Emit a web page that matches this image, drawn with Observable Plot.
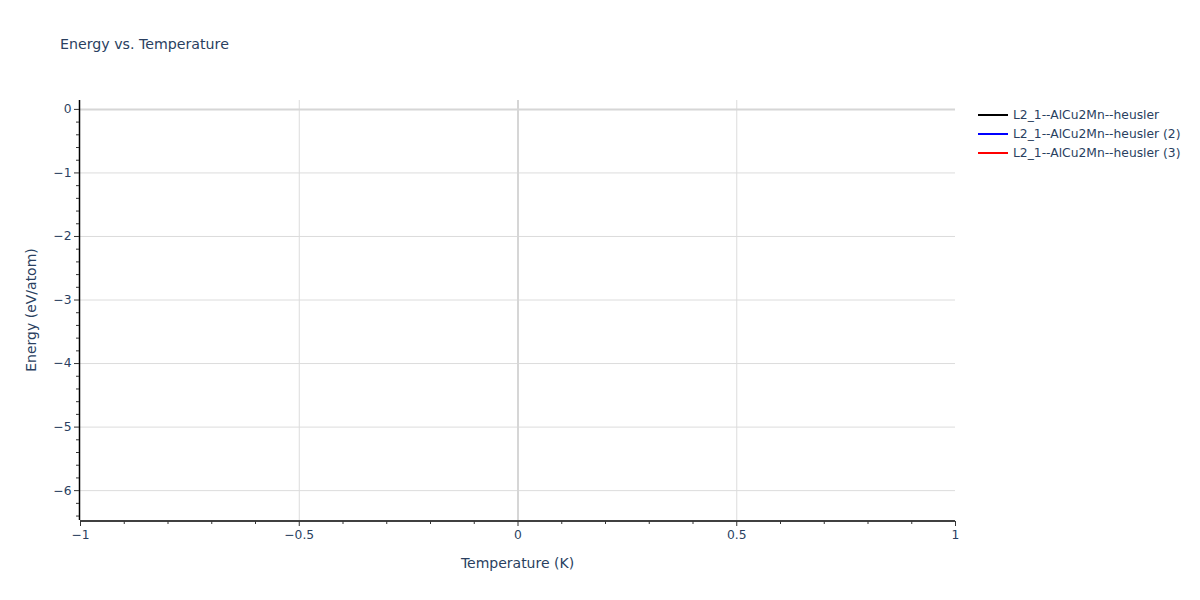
<!DOCTYPE html>
<html>
<head>
<meta charset="utf-8">
<script src="https://cdn.jsdelivr.net/npm/d3@7"></script>
<script src="https://cdn.jsdelivr.net/npm/@observablehq/plot@0.6"></script>
<style>
  html, body { margin: 0; padding: 0; background: #fff; }
  #wrap { position: relative; width: 1200px; height: 600px; font-family: "DejaVu Sans", Verdana, sans-serif; color: #2a3f5f; }
  #title { position: absolute; left: 60px; top: 36px; font-size: 14.2px; white-space: nowrap; }
  #legend { position: absolute; left: 978px; top: 105px; font-size: 12.3px; }
  .item { display: flex; align-items: center; height: 19px; white-space: nowrap; }
  .swatch { width: 30px; height: 2px; margin-right: 5px; }
  #chart { position: absolute; left: 0; top: 0; }
</style>
</head>
<body>
<div id="wrap">
  <div id="chart"></div>
  <div id="title">Energy vs. Temperature</div>
  <div id="legend"></div>
</div>
<script>
// ---- data ----
const seriesNames = ["L2_1--AlCu2Mn--heusler", "L2_1--AlCu2Mn--heusler (2)", "L2_1--AlCu2Mn--heusler (3)"];
const seriesColors = ["#000000", "#0000ff", "#ff0000"];
// The three traces contain no plotted points in the reference
const series1 = [];
const series2 = [];
const series3 = [];
const xDomain = [-1, 1];
const yDomain = [-6.47, 0.14];
const xTicks = [-1, -0.5, 0, 0.5, 1];
const xMinorTicks = [-0.9, -0.8, -0.7, -0.6, -0.4, -0.3, -0.2, -0.1, 0.1, 0.2, 0.3, 0.4, 0.6, 0.7, 0.8, 0.9];
const yTicks = [0, -1, -2, -3, -4, -5, -6];
const yMinorTicks = [-0.2, -0.4, -0.6, -0.8, -1.2, -1.4, -1.6, -1.8, -2.2, -2.4, -2.6, -2.8, -3.2, -3.4, -3.6, -3.8, -4.2, -4.4, -4.6, -4.8, -5.2, -5.4, -5.6, -5.8, -6.2, -6.4];
const xLabel = "Temperature (K)";
const yLabel = "Energy (eV/atom)";

const fmt = d => d3.format("")(d).replace("-", "\u2212");
const font = "DejaVu Sans, Verdana, sans-serif";
const textColor = "#2a3f5f";

const plot = Plot.plot({
  width: 1200,
  height: 600,
  marginLeft: 80,
  marginRight: 245,
  marginTop: 100,
  marginBottom: 80,
  style: { fontFamily: font, fontSize: "12px", color: textColor, background: "#fff" },
  x: { domain: xDomain, axis: null },
  y: { domain: yDomain, axis: null },
  marks: [
    Plot.gridX(xTicks.filter(v => v !== 0 && Math.abs(v) !== 1), { stroke: "#dcdcdc", strokeOpacity: 1, strokeWidth: 1 }),
    Plot.gridY(yTicks.filter(v => v !== 0), { stroke: "#dcdcdc", strokeOpacity: 1, strokeWidth: 1 }),
    Plot.ruleX([0], { stroke: "#d6d6d6", strokeWidth: 2 }),
    Plot.ruleY([0], { stroke: "#d6d6d6", strokeWidth: 2 }),
    Plot.lineY(series1, { x: "x", y: "y", stroke: seriesColors[0], strokeWidth: 2 }),
    Plot.lineY(series2, { x: "x", y: "y", stroke: seriesColors[1], strokeWidth: 2 }),
    Plot.lineY(series3, { x: "x", y: "y", stroke: seriesColors[2], strokeWidth: 2 }),
    // axis lines
    Plot.ruleX([xDomain[0]], { stroke: "#000", strokeWidth: 1.5, dx: -1 }),
    Plot.ruleY([yDomain[0]], { stroke: "#000", strokeWidth: 1.5, dy: 0.5 }),
    // x axis
    Plot.axisX(xTicks, { label: null, tickSize: 5, tickPadding: 4, tickFormat: fmt, fontSize: 12.3, color: textColor, stroke: "#333", dy: 1 }),
    Plot.axisX(xMinorTicks, { label: null, tickSize: 3, tickFormat: () => "", stroke: "#333", dy: 1 }),
    // y axis
    Plot.axisY(yTicks, { label: null, tickSize: 5, tickPadding: 3, tickFormat: fmt, fontSize: 12.3, color: textColor, stroke: "#333", dx: -1 }),
    Plot.axisY(yMinorTicks, { label: null, tickSize: 3, tickFormat: () => "", stroke: "#333", dx: -1 }),
  ]
});
// axis titles
const svg = d3.select(plot);
svg.append("text").attr("x", 517.5).attr("y", 568).attr("text-anchor", "middle")
  .attr("fill", textColor).style("font-size", "14px").style("font-family", font).text(xLabel);
svg.append("text").attr("transform", "translate(36,310) rotate(-90)").attr("text-anchor", "middle")
  .attr("fill", textColor).style("font-size", "14px").style("font-family", font).text(yLabel);
document.getElementById("chart").appendChild(plot);

const legend = document.getElementById("legend");
seriesNames.forEach((name, i) => {
  const row = document.createElement("div");
  row.className = "item";
  const sw = document.createElement("div");
  sw.className = "swatch";
  sw.style.background = seriesColors[i];
  const t = document.createElement("span");
  t.textContent = name;
  row.appendChild(sw); row.appendChild(t);
  legend.appendChild(row);
});
</script>
</body>
</html>
